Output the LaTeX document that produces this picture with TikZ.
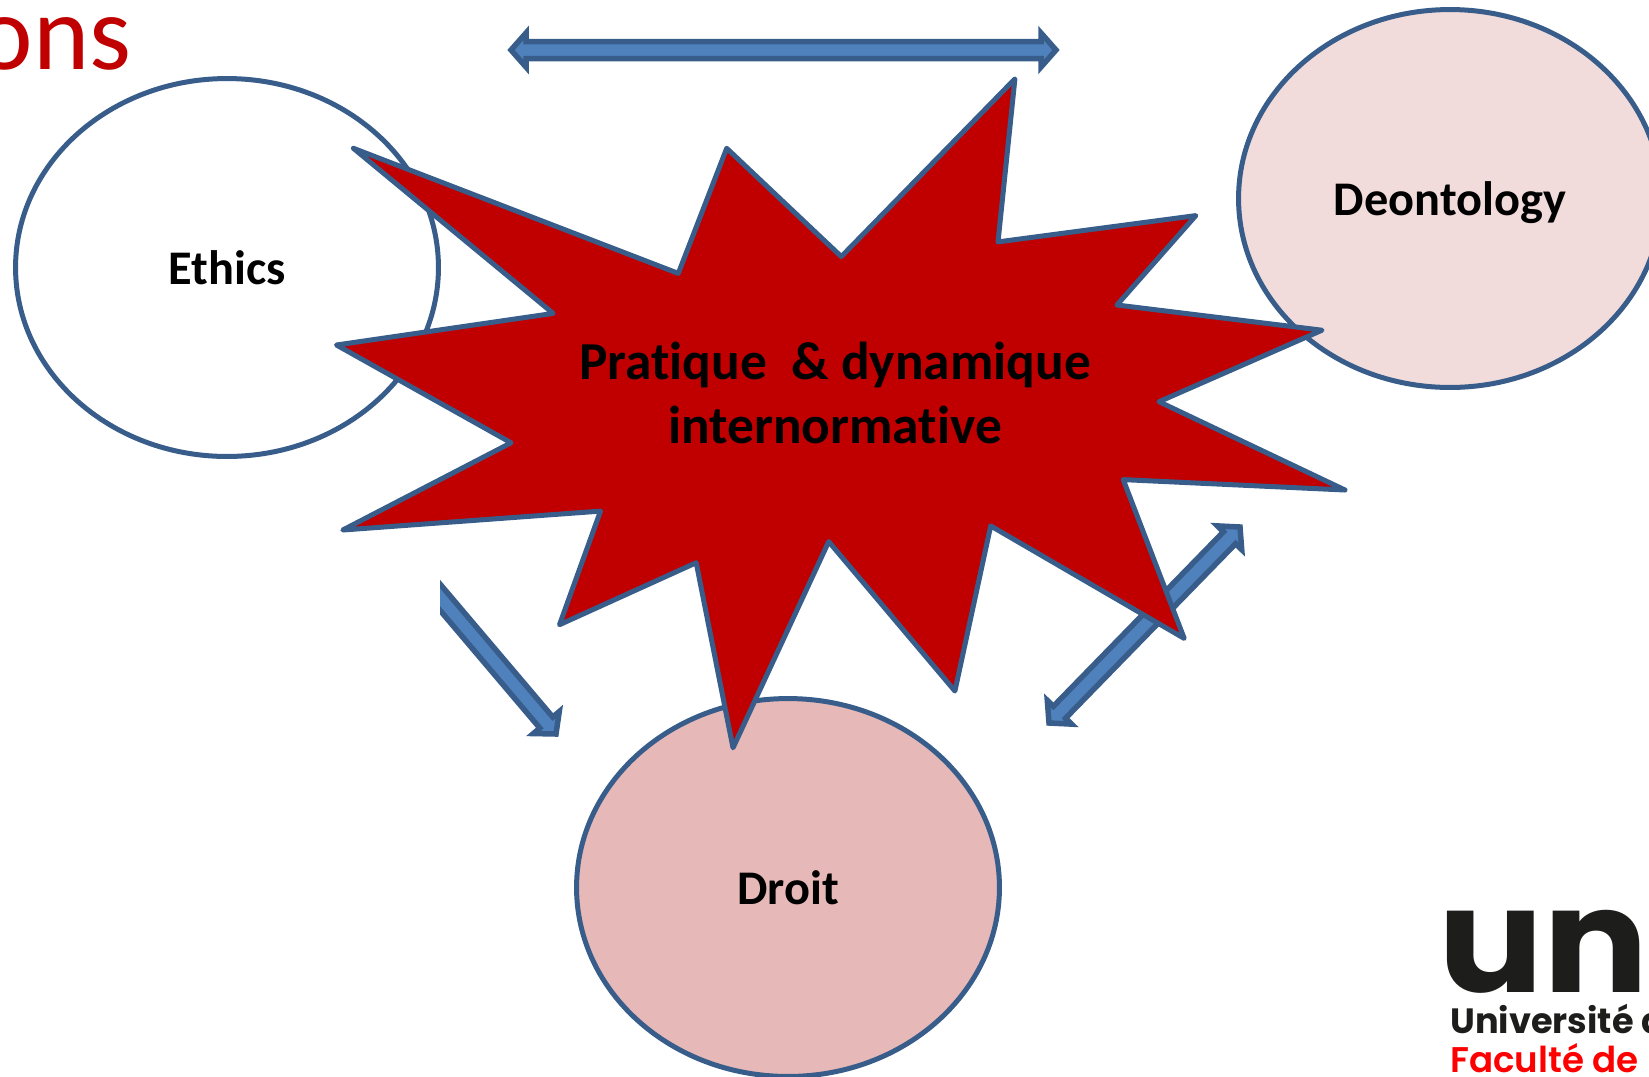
\documentclass[tikz,border=0pt]{standalone}
\usepackage{xcolor}
\usepackage{graphicx}
\usepackage{fontspec}
\setmainfont[Ligatures=CommonOff]{Carlito}
\newfontfamily\logofont{Poppins}
\newfontfamily\logofontmid{Poppins SemiBold}
\definecolor{edgeblue}{RGB}{56,93,138}
\definecolor{arrowblue}{RGB}{79,129,189}
\definecolor{starred}{RGB}{192,0,0}
\definecolor{rosedark}{RGB}{230,184,183}
\definecolor{roselight}{RGB}{242,220,219}
\definecolor{logoblack}{RGB}{29,29,27}
\usetikzlibrary{shapes.geometric,calc}
\tikzset{
    normative/.style={ellipse, draw=edgeblue, line width=0.1cm, minimum width=8.46cm, minimum height=7.56cm, text height=22pt, text depth=3pt, font=\fontsize{27.5}{33}\selectfont\bfseries},
    blockarrow/.style={draw=edgeblue, fill=arrowblue, line width=0.11cm, miter limit=10, to path={
        -- ($(\tikztostart)!0.3cm!(\tikztotarget)!0.34cm!90:(\tikztotarget)$)
        -- ($(\tikztostart)!0.3cm!(\tikztotarget)!0.17cm!90:(\tikztotarget)$)
        -- ($(\tikztotarget)!0.3cm!(\tikztostart)!0.17cm!-90:(\tikztostart)$)
        -- ($(\tikztotarget)!0.3cm!(\tikztostart)!0.34cm!-90:(\tikztostart)$)
        -- (\tikztotarget)
        -- ($(\tikztotarget)!0.3cm!(\tikztostart)!0.34cm!90:(\tikztostart)$)
        -- ($(\tikztotarget)!0.3cm!(\tikztostart)!0.17cm!90:(\tikztostart)$)
        -- ($(\tikztostart)!0.3cm!(\tikztotarget)!0.17cm!-90:(\tikztotarget)$)
        -- ($(\tikztostart)!0.3cm!(\tikztotarget)!0.34cm!-90:(\tikztotarget)$)
        -- cycle}},
}

\begin{document}
\begin{tikzpicture}[x=0.02cm, y=-0.02cm]
    \useasboundingbox (0,0) rectangle (1649,1076);

    % Title rest, top left
    \node[anchor=base east, inner sep=0pt, text=starred, font=\fontsize{61}{61}\selectfont] (title) at (132,69) {ons};

    % Three normative circles
    \node[normative, fill=white] (ethics) at (227,267.5) {Ethics};
    \node[normative, fill=roselight] (deontology) at (1450,198.5) {Deontology};
    \node[normative, fill=rosedark] (droit) at (788,887.5) {Droit};

    % Block arrows, behind the star
    \coordinate (topleft) at (511,50);
    \coordinate (topright) at (1056,50);
    \coordinate (rightup) at (1240,527);
    \coordinate (rightdown) at (1049,723);
    \coordinate (leftup) at (400,550);
    \coordinate (leftdown) at (556,734);
    \draw[blockarrow] (topleft) to (topright);
    \draw[blockarrow] (rightdown) to (rightup);
    \begin{scope}
        \clip (440,500) rectangle (700,800);
        \draw[blockarrow] (leftup) to (leftdown);
    \end{scope}

    % Star in the middle
    \draw[draw=edgeblue, fill=starred, line width=0.1cm, line join=round]
        (353.4,148.3) -- (678.3,273.4) -- (726.7,148.3) -- (841.3,256.6)
        -- (1014.9,78.9) -- (998,241.9) -- (1195.8,215.6) -- (1116.9,305)
        -- (1322,330.2) -- (1159,401.7) -- (1345,490) -- (1123.2,479.6)
        -- (1184.2,638.4) -- (990.7,525.9) -- (954.9,691) -- (828.7,541.6)
        -- (733,747.8) -- (696.2,562.7) -- (559.5,624.7) -- (600.5,511.1)
        -- (342.8,530) -- (511.1,442.8) -- (336.5,345) -- (553.2,313.4) -- cycle;
    \node[align=center, font=\fontsize{30.4}{36.4}\selectfont\bfseries] (pratique) at (835,393) {Pratique~~\& dynamique\\internormative};

    % Logo, bottom right
    \node[anchor=base west, inner sep=0pt, text=logoblack, font=\logofont\fontsize{83}{83}\selectfont\bfseries] (logoun) at (1438,992) {\scalebox{1.07}[1]{un}};
    \node[anchor=base west, inner sep=0pt, text=logoblack, font=\logofont\fontsize{20}{22}\selectfont\bfseries] (logouni) at (1450,1033) {Université d};
    \node[anchor=base west, inner sep=0pt, text=red, font=\logofontmid\fontsize{20.3}{22}\selectfont] (logofac) at (1450,1072.5) {Faculté de};
\end{tikzpicture}
\end{document}
